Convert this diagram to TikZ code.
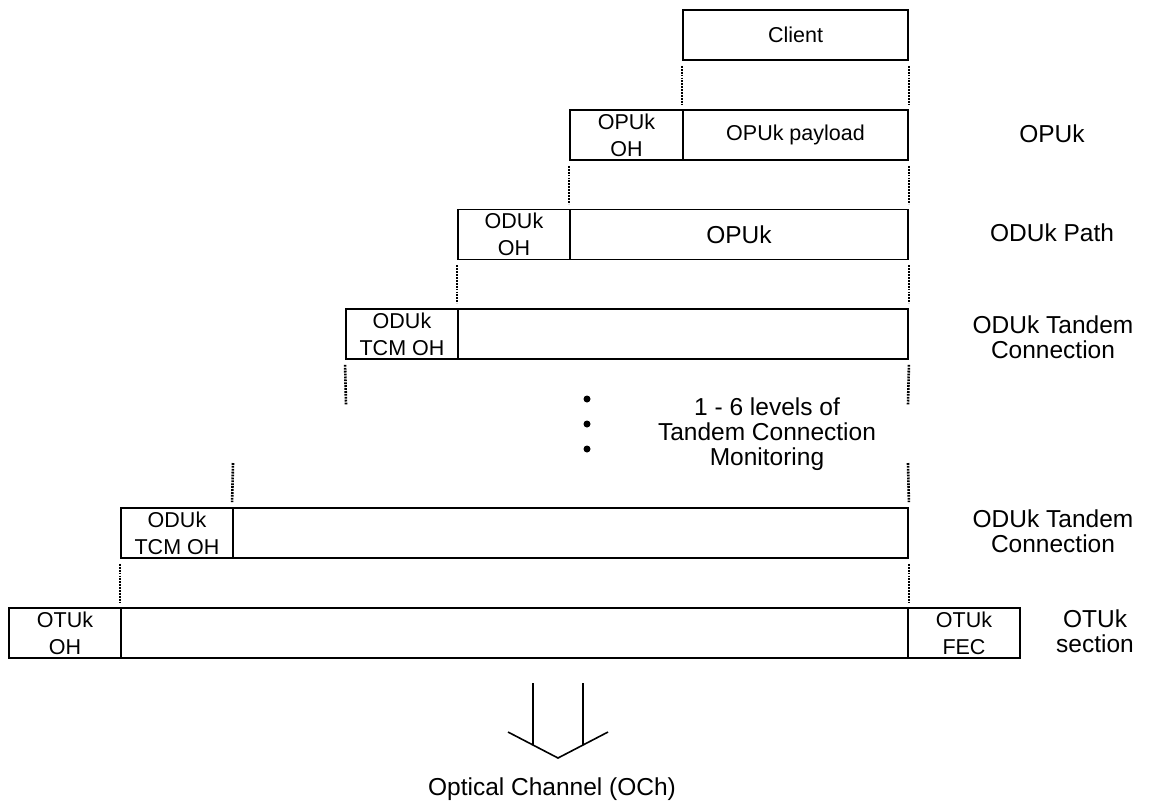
\documentclass[tikz,border=0pt]{standalone}
\usepackage{fontspec}
\setmainfont{Liberation Sans}
\newcommand\fsmall{\fontsize{21.5}{26.7}\selectfont}
\newcommand\fbig{\fontsize{24.5}{25}\selectfont}
\begin{document}
\begin{tikzpicture}[x=1pt,y=-1pt,
  box/.style={draw, line width=1.8pt, rectangle, inner sep=0pt, align=center, font=\fsmall, minimum height=50pt},
  dotline/.style={line width=2.6pt, dash pattern=on 1.8pt off 1.1pt},
  lbl/.style={align=center, font=\fbig, inner sep=0pt},
  arr/.style={line width=1.6pt},
  dotmark/.style={circle, fill, inner sep=0pt, minimum size=7pt}
]
\useasboundingbox (0,0) rectangle (1150,807);

% boxes
\node[box, minimum width=225pt] (client) at (795.5,35) {Client};
\node[box, minimum width=113pt] (opuoh) at (626.5,135) {OPUk\\OH};
\node[box, minimum width=225pt] (opupl) at (795.5,135) {OPUk payload};
\node[box, minimum width=112pt] (oduoh) at (514,234.5) {ODUk\\OH};
\node[box, minimum width=338pt, font=\fbig] (oduopu) at (739,234.5) {OPUk};
\node[box, minimum width=112pt] (tcmaoh) at (402,334) {ODUk\\TCM OH};
\node[box, minimum width=450pt] (tcmapl) at (683,334) {};
\node[box, minimum width=112pt] (tcmboh) at (177,533) {ODUk\\TCM OH};
\node[box, minimum width=675pt] (tcmbpl) at (570.5,533) {};
\node[box, minimum width=112pt] (otuoh) at (65,633) {OTUk\\OH};
\node[box, minimum width=787pt] (otupl) at (514.5,633) {};
\node[box, minimum width=112pt] (otufec) at (964,633) {OTUk\\FEC};

% dotted guide lines
\draw[dotline] ([yshift=-5pt]client.south west) -- ([yshift=5pt]opupl.north west);
\draw[dotline] ([yshift=-5pt]client.south east) -- ([yshift=5pt]opupl.north east);
\draw[dotline] ([yshift=-5pt]opuoh.south west) -- ([yshift=5pt]oduopu.north west);
\draw[dotline] ([yshift=-5pt]opupl.south east) -- ([yshift=5pt]oduopu.north east);
\draw[dotline] ([yshift=-5pt]oduoh.south west) -- ([yshift=5pt]tcmapl.north west);
\draw[dotline] ([yshift=-5pt]oduopu.south east) -- ([yshift=5pt]tcmapl.north east);
\coordinate (fa) at (346,405);
\coordinate (fb) at (908,405);
\coordinate (fc) at (233,463);
\coordinate (fd) at (908,463);
\draw[dotline] ([yshift=-5pt]tcmaoh.south west) -- (fa);
\draw[dotline] ([yshift=-5pt]tcmapl.south east) -- (fb);
\draw[dotline] (fc) -- ([yshift=5pt]tcmbpl.north west);
\draw[dotline] (fd) -- ([yshift=5pt]tcmbpl.north east);
\draw[dotline] ([yshift=-5pt]tcmboh.south west) -- ([yshift=5pt]otupl.north west);
\draw[dotline] ([yshift=-5pt]tcmbpl.south east) -- ([yshift=5pt]otupl.north east);

% ellipsis dots
\node[dotmark] (d1) at (587,399) {};
\node[dotmark] (d2) at (587,424) {};
\node[dotmark] (d3) at (587,449) {};

% labels
\node[lbl] (lopu) at (1052,134) {OPUk};
\node[lbl] (lodup) at (1052,233) {ODUk Path};
\node[lbl] (ltcma) at (1053,337) {ODUk Tandem\\Connection};
\node[lbl] (ltcmb) at (1053,531) {ODUk Tandem\\Connection};
\node[lbl] (lotu) at (1095,631) {OTUk\\section};
\node[lbl] (llev) at (767,434) {1 - 6 levels of\\Tandem Connection\\Monitoring};
\node[lbl] (loch) at (552,789) {Optical Channel (OCh)};

% output arrow
\coordinate (a1) at (533,683);
\coordinate (a2) at (583,683);
\coordinate (cl) at (508,732);
\coordinate (ct) at (558,758);
\coordinate (cr) at (608,732);
\draw[arr] (a1) -- (533,745);
\draw[arr] (a2) -- (583,745);
\draw[arr, line join=miter] (cl) -- (ct) -- (cr);
\end{tikzpicture}
\end{document}
